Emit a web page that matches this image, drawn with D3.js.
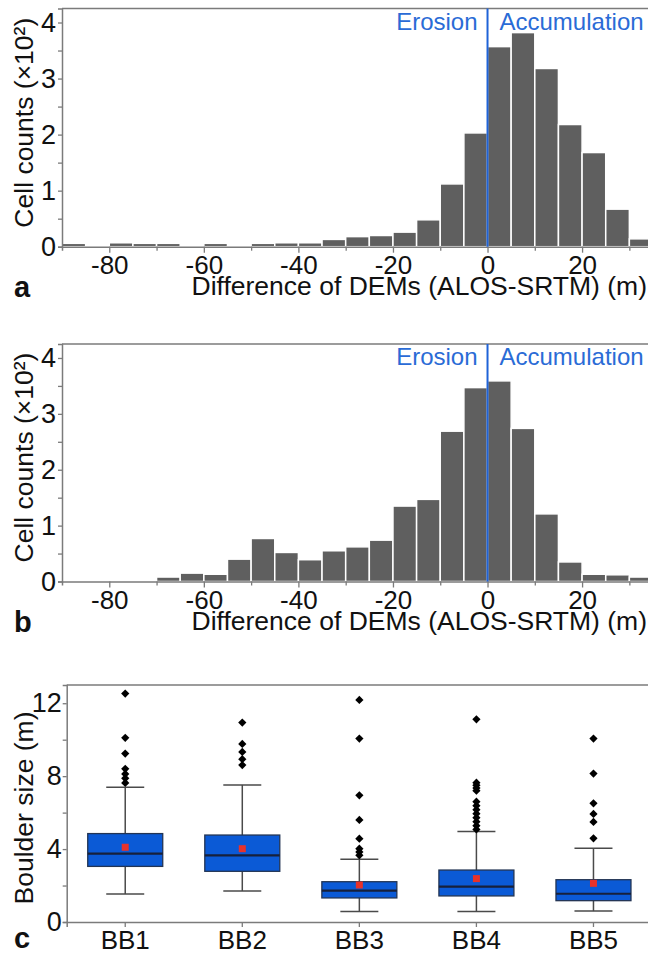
<!DOCTYPE html>
<html>
<head>
<meta charset="utf-8">
<script src="https://cdn.jsdelivr.net/npm/d3@7"></script>
<style>
  body { margin: 0; background: #fff; }
  svg { display: block; overflow: hidden; font-family: "Liberation Sans", Arial, sans-serif; }
</style>
</head>
<body>
<div id="chart"></div>
<script>
// histogram bins (left edge, 5 m wide)
var binStarts = [-90, -85, -80, -75, -70, -65, -60, -55, -50, -45, -40, -35, -30,
                 -25, -20, -15, -10, -5, 0, 5, 10, 15, 20, 25, 30];
// cell counts (x10^2), panel a
var countsA = [0.06, 0, 0.07, 0.06, 0.06, 0, 0.06, 0, 0.06, 0.07, 0.07, 0.13, 0.18,
               0.20, 0.26, 0.48, 1.12, 2.03, 3.57, 3.82, 3.18, 2.18, 1.68, 0.67, 0.14];
// cell counts (x10^2), panel b
var countsB = [0, 0, 0, 0, 0.08, 0.15, 0.13, 0.40, 0.77, 0.52, 0.39, 0.55, 0.62,
               0.74, 1.35, 1.47, 2.69, 3.47, 3.59, 2.74, 1.21, 0.35, 0.13, 0.12, 0.08];
var histMajorTicks = [-80, -60, -40, -20, 0, 20];
var histMinorTicks = [-70, -50, -30, -10, 10, 30];

// boulder size boxplots
var groups = ["BB1", "BB2", "BB3", "BB4", "BB5"];
var whiskerLow = [1.54, 1.70, 0.57, 0.57, 0.60];
var q1 = [3.05, 2.78, 1.32, 1.43, 1.17];
var median = [3.75, 3.66, 1.72, 1.94, 1.55];
var q3 = [4.85, 4.77, 2.21, 2.85, 2.32];
var whiskerHigh = [7.39, 7.52, 3.44, 4.97, 4.04];
var means = [4.10, 4.02, 2.03, 2.38, 2.12];
var outliers = [
  [12.53, 10.10, 9.24, 8.40, 8.12, 7.88, 7.63],
  [10.94, 9.77, 9.33, 8.93, 8.61],
  [12.18, 10.06, 6.95, 5.60, 4.57, 4.02, 3.84, 3.66],
  [11.12, 7.64, 7.50, 7.35, 7.20, 6.60, 6.38, 6.16, 5.94, 5.72, 5.50, 5.28, 5.08],
  [10.06, 8.14, 6.51, 5.93, 5.49, 4.59]
];

var W = 648, H = 953;
var axisColor = "#7b7b7b";
var barColor = "#5f5f5f";
var lineBlue = "#1f63d8";
// plain hyphen for negatives, like the original figure
var fmtTick = function(d) { return String(d); };

var svg = d3.select("#chart").append("svg")
    .attr("width", W)
    .attr("height", H);

function styleAxis(g) {
  g.select(".domain").attr("stroke", axisColor).attr("stroke-width", 1.5);
  g.selectAll(".tick line").attr("stroke", axisColor).attr("stroke-width", 1.3);
  g.selectAll(".tick text").attr("fill", "#111").style("font-size", "26px");
}

// draw one histogram panel
function drawHist(counts, top, bottom, letter) {
  var left = 62, right = 653;
  var x = d3.scaleLinear().domain([-90, 35]).range([left, right]);
  var y = d3.scaleLinear().domain([0, 4.25]).range([bottom, top]);
  var g = svg.append("g");

  // bars
  g.append("g")
    .selectAll("rect")
    .data(binStarts)
    .enter()
    .append("rect")
      .attr("x", function(d) { return x(d); })
      .attr("width", function(d) { return x(d + 5) - x(d); })
      .attr("y", function(d, i) { return y(counts[i]); })
      .attr("height", function(d, i) { return y(0) - y(counts[i]); })
      .attr("fill", barColor)
      .attr("stroke", "#fff")
      .attr("stroke-width", 1.5);

  // top frame
  g.append("line")
    .attr("x1", left).attr("x2", right)
    .attr("y1", top).attr("y2", top)
    .attr("stroke", axisColor).attr("stroke-width", 1.5);

  // x axis
  g.append("g")
    .attr("transform", "translate(0," + bottom + ")")
    .call(d3.axisBottom(x).tickValues(histMinorTicks).tickSize(4).tickFormat(""))
    .call(styleAxis);
  g.append("g")
    .attr("transform", "translate(0," + bottom + ")")
    .call(d3.axisBottom(x).tickValues(histMajorTicks).tickSize(6).tickPadding(3).tickFormat(fmtTick))
    .call(styleAxis)
    .call(function(a) { a.select(".domain").remove(); });

  // y axis
  g.append("g")
    .attr("transform", "translate(" + left + ",0)")
    .call(d3.axisLeft(y).tickValues([0.5, 1.5, 2.5, 3.5]).tickSize(4).tickFormat(""))
    .call(styleAxis);
  g.append("g")
    .attr("transform", "translate(" + left + ",0)")
    .call(d3.axisLeft(y).tickValues([0, 1, 2, 3, 4]).tickSize(4).tickPadding(2).tickFormat(fmtTick))
    .call(styleAxis)
    .call(function(a) {
      a.select(".domain").remove();
      a.selectAll(".tick text").style("font-size", "27px");
    });

  // zero line + labels
  g.append("line")
    .attr("x1", x(0)).attr("x2", x(0))
    .attr("y1", top).attr("y2", bottom)
    .attr("stroke", lineBlue).attr("stroke-width", 2);
  g.append("text")
    .attr("x", x(0) - 10).attr("y", top + 21)
    .attr("text-anchor", "end")
    .attr("fill", "#2a6bd6")
    .style("font-size", "24px")
    .text("Erosion");
  g.append("text")
    .attr("x", x(0) + 12).attr("y", top + 21)
    .attr("fill", "#2a6bd6")
    .style("font-size", "24px")
    .text("Accumulation");

  // axis titles
  g.append("text")
    .attr("x", 647).attr("y", bottom + 48.5)
    .attr("text-anchor", "end")
    .attr("fill", "#111")
    .style("font-size", "26.5px")
    .text("Difference of DEMs (ALOS-SRTM) (m)");
  g.append("text")
    .attr("transform", "translate(33," + (bottom - 124) + ") rotate(-90)")
    .attr("text-anchor", "middle")
    .attr("fill", "#111")
    .style("font-size", "26.5px")
    .text("Cell counts (\u00d710\u00b2)");
  g.append("text")
    .attr("x", 14).attr("y", bottom + 50)
    .attr("fill", "#111")
    .style("font-size", "29px")
    .style("font-weight", "bold")
    .text(letter);
}

drawHist(countsA, 8.5, 246.7, "a");
drawHist(countsB, 344, 581.5, "b");

// panel c: boxplots
var cLeft = 66.7, cRight = 652, cTop = 685, cBottom = 922;
var xb = d3.scaleBand().domain(groups).range([cLeft, cRight]);
var yb = d3.scaleLinear().domain([0, 13]).range([cBottom, cTop]);
var gc = svg.append("g");
var boxW = 75, capW = 38;

gc.append("line")
  .attr("x1", cLeft).attr("x2", cRight)
  .attr("y1", cTop).attr("y2", cTop)
  .attr("stroke", axisColor).attr("stroke-width", 1.5);

// right axis ticks (inward)
gc.append("g")
  .attr("transform", "translate(" + cRight + ",0)")
  .call(d3.axisLeft(yb).tickValues([2, 4, 6, 8, 10, 12]).tickSizeOuter(0).tickSizeInner(-5).tickFormat(""))
  .call(styleAxis);

gc.append("g")
  .attr("transform", "translate(0," + cBottom + ")")
  .call(d3.axisBottom(xb).tickSize(5).tickPadding(4))
  .call(styleAxis);

gc.append("g")
  .attr("transform", "translate(" + cLeft + ",0)")
  .call(d3.axisLeft(yb).tickValues([2, 6, 10]).tickSize(4).tickFormat(""))
  .call(styleAxis);
gc.append("g")
  .attr("transform", "translate(" + cLeft + ",0)")
  .call(d3.axisLeft(yb).tickValues([0, 4, 8, 12]).tickSize(4).tickPadding(1).tickFormat(fmtTick))
  .call(styleAxis)
  .call(function(a) {
    a.select(".domain").remove();
    a.selectAll(".tick text").style("font-size", "27px");
  });

var boxes = gc.append("g")
  .selectAll("g")
  .data(groups)
  .enter()
  .append("g")
    .attr("transform", function(d) { return "translate(" + (xb(d) + xb.bandwidth() / 2) + ",0)"; });

// whiskers
boxes.append("line")
  .attr("y1", function(d, i) { return yb(whiskerLow[i]); })
  .attr("y2", function(d, i) { return yb(whiskerHigh[i]); })
  .attr("stroke", "#4a4a4a").attr("stroke-width", 1.5);
boxes.append("line")
  .attr("x1", -capW / 2).attr("x2", capW / 2)
  .attr("y1", function(d, i) { return yb(whiskerLow[i]); })
  .attr("y2", function(d, i) { return yb(whiskerLow[i]); })
  .attr("stroke", "#4a4a4a").attr("stroke-width", 1.5);
boxes.append("line")
  .attr("x1", -capW / 2).attr("x2", capW / 2)
  .attr("y1", function(d, i) { return yb(whiskerHigh[i]); })
  .attr("y2", function(d, i) { return yb(whiskerHigh[i]); })
  .attr("stroke", "#4a4a4a").attr("stroke-width", 1.5);

// box
boxes.append("rect")
  .attr("x", -boxW / 2).attr("width", boxW)
  .attr("y", function(d, i) { return yb(q3[i]); })
  .attr("height", function(d, i) { return yb(q1[i]) - yb(q3[i]); })
  .attr("fill", "#0b5ad6")
  .attr("stroke", "#233554").attr("stroke-width", 1.3);

// median
boxes.append("line")
  .attr("x1", -boxW / 2).attr("x2", boxW / 2)
  .attr("y1", function(d, i) { return yb(median[i]); })
  .attr("y2", function(d, i) { return yb(median[i]); })
  .attr("stroke", "#17203a").attr("stroke-width", 2.2);

// mean
boxes.append("rect")
  .attr("x", -3.5).attr("width", 7)
  .attr("y", function(d, i) { return yb(means[i]) - 3.5; })
  .attr("height", 7)
  .attr("fill", "#e8322a");

// outliers
var diamond = d3.symbol().type(d3.symbolSquare).size(34);
boxes.each(function(d, i) {
  d3.select(this).selectAll("path.out")
    .data(outliers[i])
    .enter()
    .append("path")
      .attr("class", "out")
      .attr("d", diamond)
      .attr("transform", function(v) { return "translate(0," + yb(v) + ") rotate(45)"; })
      .attr("fill", "#000");
});

gc.append("text")
  .attr("transform", "translate(33,808) rotate(-90)")
  .attr("text-anchor", "middle")
  .attr("fill", "#111")
  .style("font-size", "26.5px")
  .text("Boulder size (m)");
gc.append("text")
  .attr("x", 14).attr("y", 948)
  .attr("fill", "#111")
  .style("font-size", "29px")
  .style("font-weight", "bold")
  .text("c");
</script>
</body>
</html>
